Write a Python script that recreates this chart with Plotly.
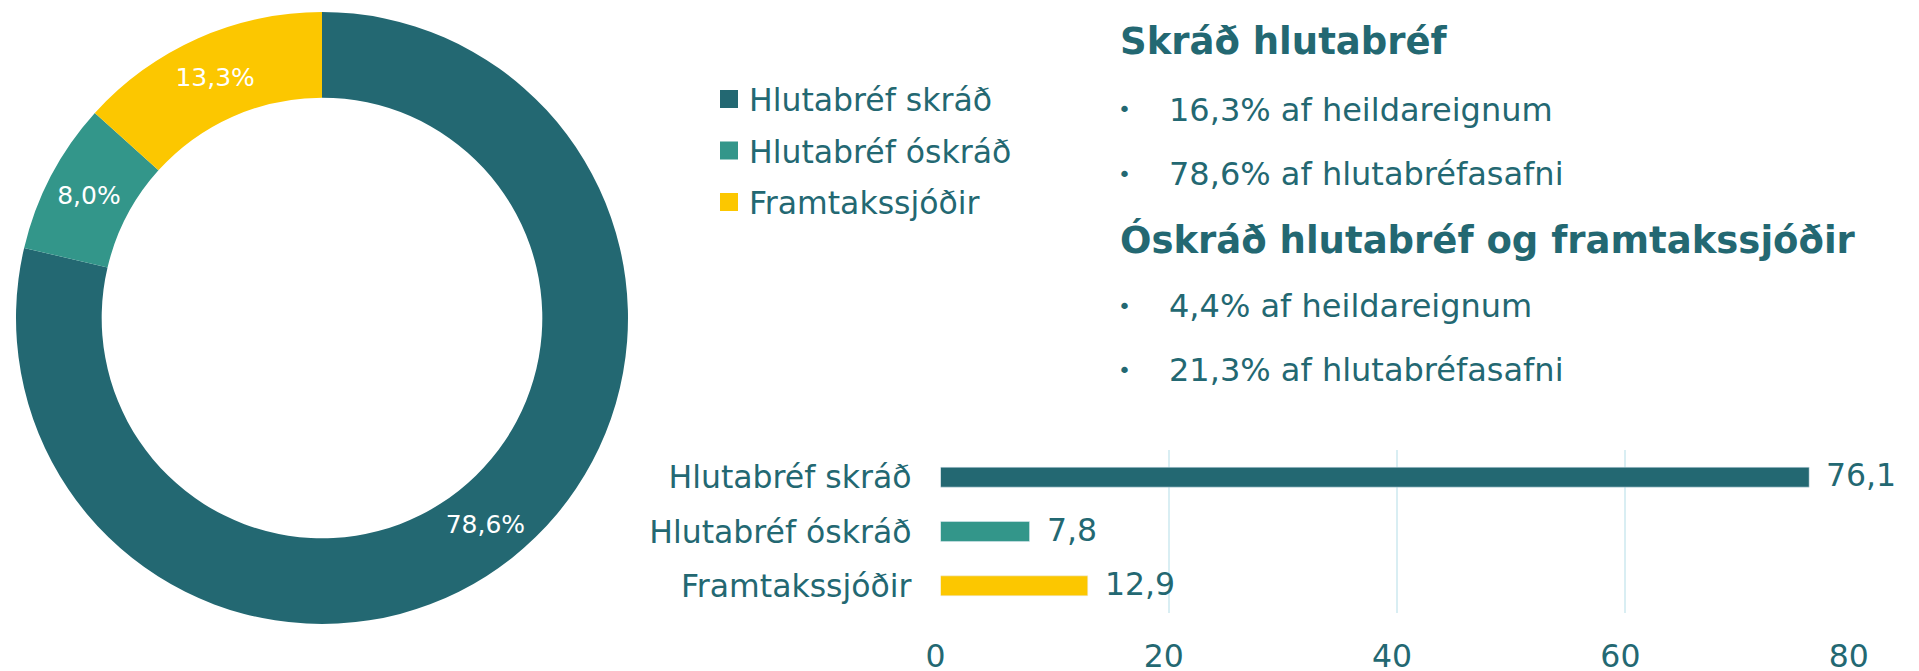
import plotly.graph_objects as go

# ---- data ----
categories = ["Hlutabréf skráð", "Hlutabréf óskráð", "Framtakssjóðir"]
bar_values = [76.1, 7.8, 12.9]
pie_shares = [78.6, 8.0, 13.3]
colors = ["#236872", "#33968A", "#FCC700"]
x_ticks = [0, 20, 40, 60, 80]

title_1 = "Skráð hlutabréf"
bullets_1 = ["16,3% af heildareignum", "78,6% af hlutabréfasafni"]
title_2 = "Óskráð hlutabréf og framtakssjóðir"
bullets_2 = ["4,4% af heildareignum", "21,3% af hlutabréfasafni"]

TEXT = "#236872"
FONT = "DejaVu Sans"
W, H = 1919, 671
PAGE = 8  # default body margin of the html page


def px(x):
    return (x - PAGE) / W


def py(y):
    return 1 - (y - PAGE) / H


fig = go.Figure()

# donut
fig.add_trace(go.Pie(
    labels=categories, values=pie_shares, sort=False, direction="clockwise",
    rotation=0, hole=0.72, marker=dict(colors=colors),
    texttemplate="%{value:.1f}%", textposition="inside",
    insidetextorientation="horizontal",
    textfont=dict(family=FONT, size=25, color="white"),
    domain=dict(x=[px(16), px(628)], y=[py(624), py(12)]),
    showlegend=False, hoverinfo="label+value", automargin=False,
))

# bars
fig.add_trace(go.Bar(
    x=bar_values, y=categories, orientation="h",
    marker=dict(color=colors), showlegend=False,
    xaxis="x", yaxis="y",
))

# legend entries
for i, (c, col) in enumerate(zip(categories, colors)):
    fig.add_trace(go.Scatter(
        x=[None], y=[None], mode="markers", name=c, legendgroup=str(i),
        marker=dict(symbol="square", size=16, color=col, line=dict(color=col, width=2)),
        xaxis="x", yaxis="y",
    ))

annotations = []
# value labels
for c, v in zip(categories, bar_values):
    annotations.append(dict(
        x=v, y=c, xref="x", yref="y", text=f"{v:.1f}".replace(".", ","),
        showarrow=False, xanchor="left", yanchor="middle", xshift=15, yshift=2,
        font=dict(family=FONT, size=31.5, color=TEXT),
    ))

# headings and bullets
for t, yy in [(title_1, 41), (title_2, 240)]:
    annotations.append(dict(
        x=px(1118), y=py(yy), xref="paper", yref="paper", text=f"<b>{t}</b>",
        showarrow=False, xanchor="left", yanchor="middle",
        font=dict(family=FONT, size=37, color=TEXT),
    ))
for t, yy in zip(bullets_1 + bullets_2, [110, 174, 306, 370]):
    annotations.append(dict(
        x=px(1124), y=py(yy), xref="paper", yref="paper", text="•",
        showarrow=False, xanchor="center", yanchor="middle",
        font=dict(family=FONT, size=22, color=TEXT),
    ))
    annotations.append(dict(
        x=px(1167), y=py(yy), xref="paper", yref="paper", text=t,
        showarrow=False, xanchor="left", yanchor="middle",
        font=dict(family=FONT, size=32, color=TEXT),
    ))

fig.update_layout(
    width=W, height=H, margin=dict(l=0, r=0, t=0, b=0, autoexpand=False),
    paper_bgcolor="white", plot_bgcolor="white",
    separators=", ",
    bargap=0.633,
    font=dict(family=FONT, color=TEXT),
    xaxis=dict(
        domain=[px(940.5), px(1853.7)], range=[0, 80], tickvals=x_ticks,
        showgrid=True, gridcolor="#D9EEF3", gridwidth=2, zeroline=False,
        showline=False, ticks="", ticklabelstandoff=21, ticklabelshift=-5,
        automargin=False,
        tickfont=dict(family=FONT, size=31.5, color=TEXT), anchor="y",
    ),
    yaxis=dict(
        domain=[py(613), py(450)], autorange="reversed", type="category",
        showgrid=False, zeroline=False, showline=False, ticks="",
        ticklabelstandoff=28, automargin=False,
        tickfont=dict(family=FONT, size=31.5, color=TEXT), anchor="x",
    ),
    legend=dict(
        x=px(709), y=py(72), xanchor="left", yanchor="top",
        tracegroupgap=7.5, font=dict(family=FONT, size=31.5, color=TEXT),
        bgcolor="rgba(0,0,0,0)", borderwidth=0,
    ),
    annotations=annotations,
)

fig.write_html("out.html")
